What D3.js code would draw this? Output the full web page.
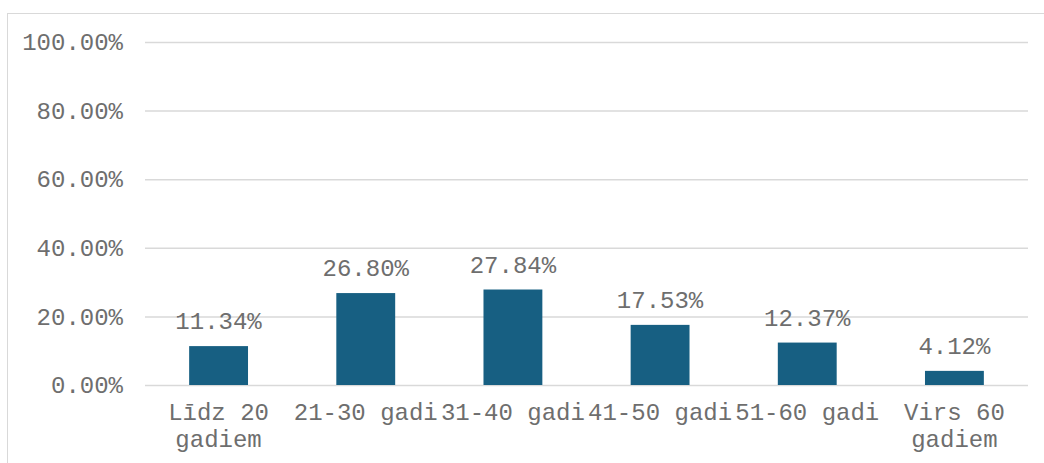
<!DOCTYPE html>
<html>
<head>
<meta charset="utf-8">
<script src="https://cdn.jsdelivr.net/npm/d3@7"></script>
<style>
  html, body { margin: 0; padding: 0; background: #fff; }
  svg { display: block; }
  text { font-family: "Liberation Mono", "Courier New", monospace; fill: #6e6e6e; }
</style>
</head>
<body>
<svg id="chart" width="1044" height="463"></svg>
<script>
// Age groups (each entry is the list of lines in the label)
const categories = [
  ["Līdz 20", "gadiem"],
  ["21-30 gadi"],
  ["31-40 gadi"],
  ["41-50 gadi"],
  ["51-60 gadi"],
  ["Virs 60", "gadiem"]
];
const values = [11.34, 26.80, 27.84, 17.53, 12.37, 4.12];
const yTicks = [0, 20, 40, 60, 80, 100];

const svg = d3.select("#chart");
const W = 1044, H = 463;
const plot = { left: 145, right: 1028, top: 42, bottom: 385 };

// Outer chart frame
svg.append("rect")
  .attr("x", 7.5).attr("y", 13.5)
  .attr("width", W + 20).attr("height", H + 20)
  .attr("fill", "none").attr("stroke", "#d9d9d9").attr("stroke-width", 1);

const x = d3.scaleBand()
  .domain(categories.map((d, i) => i))
  .range([plot.left, plot.right])
  .paddingInner(0.6).paddingOuter(0.3);

const y = d3.scaleLinear().domain([0, 100]).range([plot.bottom, plot.top]);

// Gridlines and tick labels
const yAxis = d3.axisLeft(y)
  .tickValues(yTicks)
  .tickSize(-(plot.right - plot.left))
  .tickPadding(22)
  .tickFormat(d => d.toFixed(2) + "%");

const gy = svg.append("g")
  .attr("transform", `translate(${plot.left},0)`)
  .call(yAxis);
gy.select(".domain").remove();
gy.selectAll(".tick line").attr("stroke", "#d9d9d9").attr("stroke-width", 1.5);
gy.selectAll(".tick text")
  .style("font-size", "24px").attr("fill", "#6e6e6e");

// Bars
svg.append("g").selectAll("rect")
  .data(values)
  .join("rect")
  .attr("x", (d, i) => x(i))
  .attr("width", x.bandwidth())
  .attr("y", d => y(d))
  .attr("height", d => y(0) - y(d))
  .attr("fill", "#175f82");

// Value labels
svg.append("g").selectAll("text")
  .data(values)
  .join("text")
  .attr("x", (d, i) => x(i) + x.bandwidth() / 2)
  .attr("y", d => y(d) - 17)
  .attr("text-anchor", "middle")
  .style("font-size", "24px")
  .text(d => d.toFixed(2) + "%");

// Category labels
const cat = svg.append("g").selectAll("text")
  .data(categories)
  .join("text")
  .attr("x", (d, i) => x(i) + x.bandwidth() / 2)
  .attr("y", 420)
  .attr("text-anchor", "middle")
  .style("font-size", "24px");
cat.selectAll("tspan")
  .data(d => d)
  .join("tspan")
  .attr("x", function () { return d3.select(this.parentNode).attr("x"); })
  .attr("dy", (d, i) => i === 0 ? 0 : 27)
  .text(d => d);
</script>
</body>
</html>
